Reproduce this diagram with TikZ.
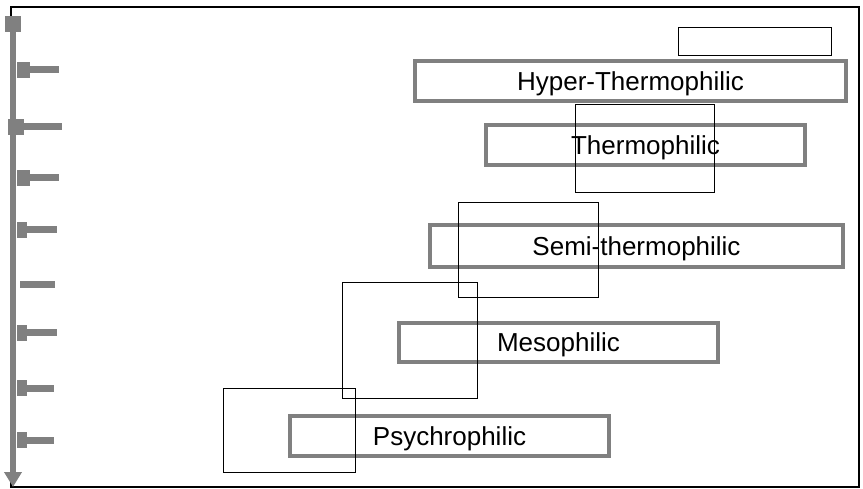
\documentclass[tikz,border=0pt]{standalone}
\usepackage{fontspec}
\setmainfont{Liberation Sans}
\usetikzlibrary{arrows.meta}

\definecolor{bandgray}{RGB}{128,128,128}

\tikzset{
  band/.style={draw=bandgray, line width=4pt, inner sep=0pt,
    minimum height=40pt, text height=18.6pt, text depth=0pt,
    font=\fontsize{26}{31}\selectfont},
  rangebox/.style={draw=black, line width=0.9pt, inner sep=0pt},
}

\begin{document}
\begin{tikzpicture}[x=1pt, y=-1pt]

\useasboundingbox (0,0) rectangle (863,489);

% frame
\draw[line width=2.8pt] (11,7) rectangle (859,487);

% temperature axis
\draw[bandgray, line width=6pt, -{Triangle[width=17pt,length=15pt]}] (13,24) -- (13,487);
\fill[bandgray] (5,16) rectangle (21,32);
\foreach \ty/\sa/\sb/\ex in {70/17/30/59, 127/8/24/62, 178/17/30/59, 230/17/27/57,
                              333/17/27/57, 388/17/27/54, 440/17/27/54}{
  \fill[bandgray] (\sa,\ty-8) rectangle (\sb,\ty+8);
  \fill[bandgray] (\sb,\ty-3.5) rectangle (\ex,\ty+3.5);
}
\fill[bandgray] (20,281.5) rectangle (55,288.5);

% classes
\node[band, minimum width=431pt] (hyper) at (630.5,81) {Hyper-Thermophilic};
\node[band, minimum width=319pt] (thermo) at (645.5,145) {Thermophilic};
\node[band, minimum width=413pt, minimum height=42pt] (semi) at (636.5,246) {Semi-thermophilic};
\node[band, minimum width=319pt, minimum height=39pt] (meso) at (558.5,342.5) {Mesophilic};
\node[band, minimum width=319pt] (psychro) at (449.5,436) {Psychrophilic};

% growth ranges
\node[rangebox, minimum width=153pt, minimum height=28pt] (rtop) at (754.5,41) {};
\node[rangebox, minimum width=139pt, minimum height=88pt] (rthermo) at (644.5,148) {};
\node[rangebox, minimum width=140pt, minimum height=95pt] (rsemi) at (528,249.5) {};
\node[rangebox, minimum width=135pt, minimum height=116pt] (rmeso) at (409.5,340) {};
\node[rangebox, minimum width=132pt, minimum height=84pt] (rpsychro) at (289,430) {};

\end{tikzpicture}
\end{document}
